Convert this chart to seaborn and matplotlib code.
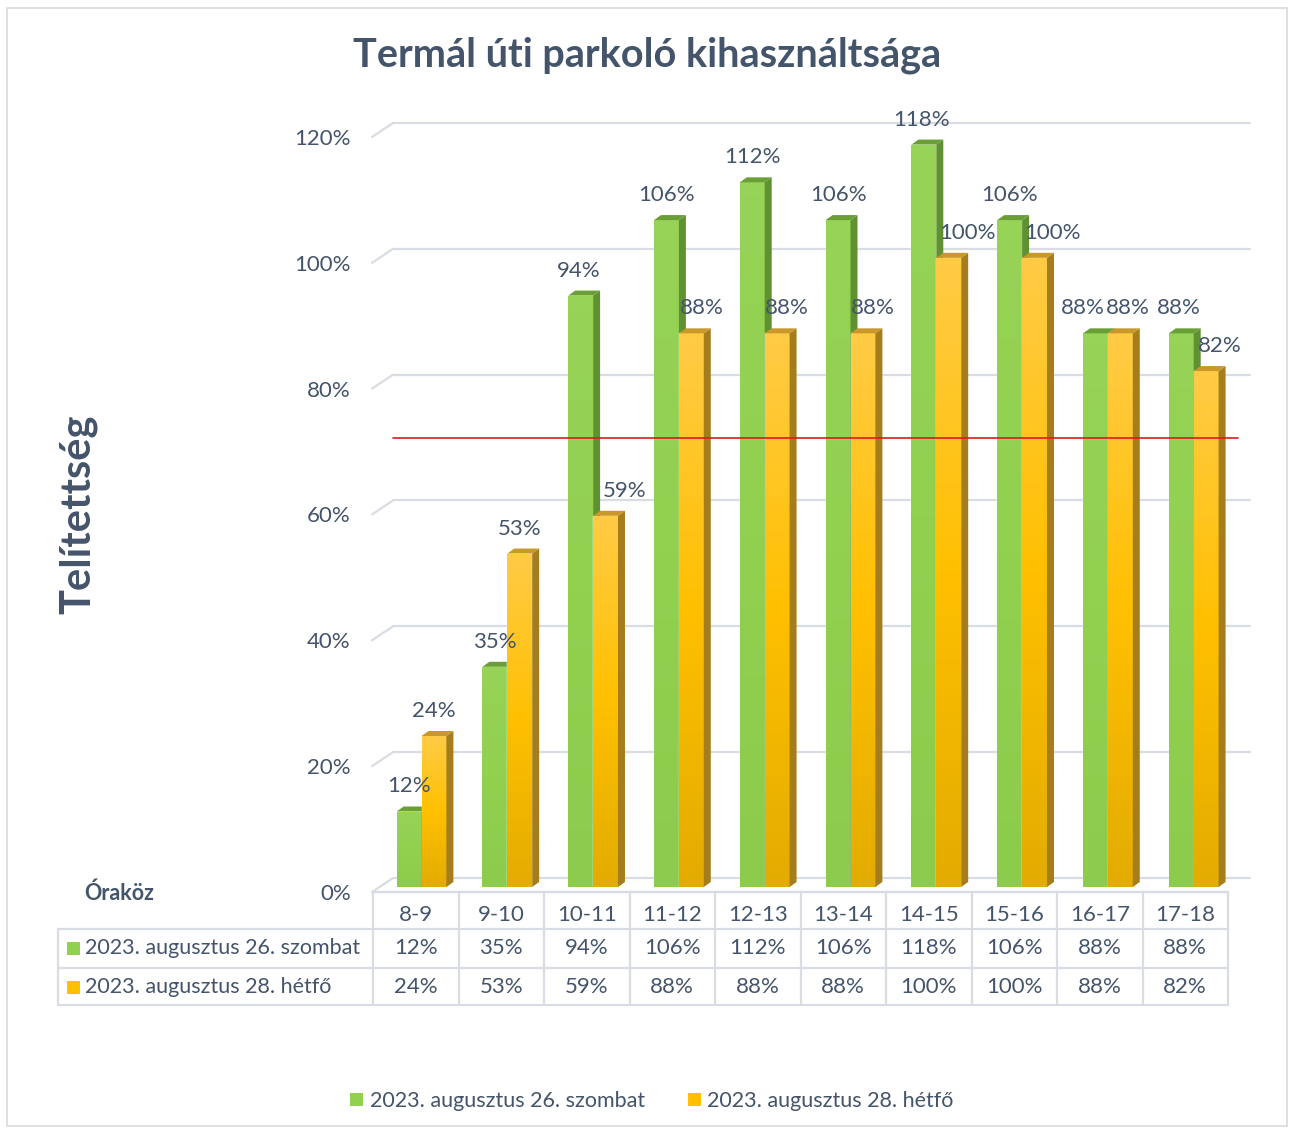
import numpy as np
import pandas as pd
import matplotlib
matplotlib.use("Agg")
import matplotlib.pyplot as plt
import seaborn as sns
from matplotlib.patches import Polygon, Rectangle, Patch
from matplotlib.lines import Line2D
from matplotlib.colors import LinearSegmentedColormap
from matplotlib.transforms import ScaledTranslation

# data
categories = ["8-9", "9-10", "10-11", "11-12", "12-13", "13-14", "14-15", "15-16", "16-17", "17-18"]
series_names = ["2023. augusztus 26. szombat", "2023. augusztus 28. hétfő"]
saturday = [12, 35, 94, 106, 112, 106, 118, 106, 88, 88]
monday = [24, 53, 59, 88, 88, 88, 100, 100, 88, 82]
threshold = 70
yticks = [0, 20, 40, 60, 80, 100, 120]

# label nudges (px) so neighbouring data labels don't collide
label_dx = [0, 0, -2, 0, 0, 0, -2, 0, -13, -2] + [0, 0, 19, 10, 10, 10, 19, 18, 7, 14]

sns.set_theme(style="white")
plt.rcParams["font.family"] = ["Lato", "DejaVu Sans"]

TXT = "#44546A"
GRID = "#D9DCE3"
GREEN = "#92D050"
ORANGE = "#FFC000"
FS = 16

W, H = 1293, 1131
fig = plt.figure(figsize=(W / 100, H / 100), dpi=100)

# bar plane: 0% at y=887 px, 120% at y=132 px
ax_left, ax_right = 378.6, 1236.6
ax = fig.add_axes([ax_left / W, (H - 887) / H, (ax_right - ax_left) / W, 755 / H])

df = pd.DataFrame({
    "Óraköz": categories * 2,
    "Telítettség": saturday + monday,
    "Nap": [series_names[0]] * len(categories) + [series_names[1]] * len(categories),
})
sns.barplot(data=df, x="Óraköz", y="Telítettség", hue="Nap", palette=[GREEN, ORANGE],
            width=0.58, saturation=1, legend=False, ax=ax, zorder=3)

ax.set_xlim(-0.5, 9.5)
ax.set_ylim(0, 120)
for s in ax.spines.values():
    s.set_visible(False)
ax.set_xticks([])
ax.set_xlabel("")
ax.set_ylabel("")

py = 120 / 755                      # data units per pixel (y)
pxx = 1 / 85.8                      # data units per pixel (x)


def axx(p):
    return (p - ax_left) / (ax_right - ax_left)


ytr = ax.get_yaxis_transform()
# back-wall gridlines + left stubs
for v in yticks:
    ax.plot([axx(393), axx(1250)], [v + 9 * py] * 2, color=GRID, lw=1.6,
            transform=ytr, clip_on=False, zorder=0.5)
    ax.plot([axx(372), axx(393)], [v - 5 * py, v + 9 * py], color=GRID, lw=1.6,
            transform=ytr, clip_on=False, zorder=0.5)
ax.plot([axx(373), axx(1228)], [-5 * py] * 2, color=GRID, lw=1.6,
        transform=ytr, clip_on=False, zorder=0.5)
ax.plot([axx(393), axx(1238)], [threshold + 9 * py] * 2, color="#E0191B", lw=1.2,
        transform=ytr, clip_on=False, zorder=10)

ax.set_yticks(yticks)
ax.set_yticklabels([f"{v}%" for v in yticks], color=TXT, fontsize=FS)
ax.tick_params(axis="y", length=0, pad=20)
for lab in ax.get_yticklabels():
    lab.set_transform(lab.get_transform() + ScaledTranslation(0, -5 / 100, fig.dpi_scale_trans))

# 3D faces
ddx, ddy = 7 * pxx, 5 * py
faces = {
    0: ("#5F9130", "#6A9E37"),
    1: ("#A67D1C", "#C9972A"),
}
orange_cmap = LinearSegmentedColormap.from_list("o", ["#E3AC00", "#FFC000", "#FFCB45"])
green_cmap = LinearSegmentedColormap.from_list("g", ["#8CCB4B", "#92D050", "#96D356"])
n = len(categories)
bars = list(ax.patches)[:2 * n]
values = saturday + monday
for k, bar in enumerate(bars):
    grp = 0 if k < n else 1
    x0, w, h = bar.get_x(), bar.get_width(), bar.get_height()
    z = 3 + grp * 2
    bar.set_zorder(z)
    cmap = green_cmap if grp == 0 else orange_cmap
    img = ax.imshow(np.linspace(0, 1, 50).reshape(-1, 1), cmap=cmap, origin="lower",
                    extent=[x0, x0 + w, 0, h], aspect="auto", zorder=z + 0.1)
    img.set_clip_path(bar)
    side, top = faces[grp]
    ax.add_patch(Polygon([(x0 + w, 0), (x0 + w, h), (x0 + w + ddx, h + ddy), (x0 + w + ddx, ddy)],
                         closed=True, fc=side, ec="none", zorder=z + 0.2))
    ax.add_patch(Polygon([(x0, h), (x0 + w, h), (x0 + w + ddx, h + ddy), (x0 + ddx, h + ddy)],
                         closed=True, fc=top, ec="none", zorder=z + 0.2))
    ax.annotate(f"{values[k]}%", xy=(x0 + w / 2, h), xytext=(label_dx[k] * 0.72, 25 * 0.72),
                textcoords="offset points", ha="center", va="center",
                color=TXT, fontsize=FS, zorder=20, annotation_clip=False)
ax.set_xlim(-0.5, 9.5)
ax.set_ylim(0, 120)


# ---- figure-level text and data table (pixel coords) ----
def fx(p):
    return p / W


def fy(p):
    return 1 - p / H


def hline(x0, x1, y):
    fig.add_artist(Line2D([fx(x0), fx(x1)], [fy(y), fy(y)], color=GRID, lw=1.6))


def vline(x, y0, y1):
    fig.add_artist(Line2D([fx(x), fx(x)], [fy(y0), fy(y1)], color=GRID, lw=1.6))


fig.text(fx(647), fy(55), "Termál úti parkoló kihasználtsága", ha="center", va="center",
         fontsize=28.5, fontweight="bold", color=TXT)
fig.text(fx(78), fy(514), "Telítettség", ha="center", va="center", rotation=90,
         fontsize=30, fontweight="bold", color=TXT)
fig.text(fx(84), fy(893), "Óraköz", ha="left", va="center", fontsize=15.5,
         fontweight="bold", color=TXT)

col0, colw = 373, 85.5
rows = [892, 929, 968, 1005]
hline(col0, col0 + 10 * colw, rows[0])
for r in rows[1:]:
    hline(58, col0 + 10 * colw, r)
vline(58, rows[1], rows[3])
for i in range(11):
    vline(col0 + i * colw, rows[0], rows[3])

for i, c in enumerate(categories):
    cx = col0 + (i + 0.5) * colw
    fig.text(fx(cx), fy(915), c, ha="center", va="center", fontsize=FS, color=TXT)
    fig.text(fx(cx), fy(948), f"{saturday[i]}%", ha="center", va="center", fontsize=FS, color=TXT)
    fig.text(fx(cx), fy(987), f"{monday[i]}%", ha="center", va="center", fontsize=FS, color=TXT)

for yc, name, col in [(948, series_names[0], GREEN), (987, series_names[1], ORANGE)]:
    fig.add_artist(Rectangle((fx(67), fy(yc + 6.5)), 13 / W, 13 / H, fc=col, ec="none"))
    fig.text(fx(85), fy(yc), name, ha="left", va="center", fontsize=15.5, color=TXT)

# outer border
fig.add_artist(Rectangle((fx(7), fy(1126)), 1280 / W, 1118 / H, fill=False, ec="#D9D9D9", lw=1.2))

handles = [Patch(fc=GREEN, ec="none"), Patch(fc=ORANGE, ec="none")]
fig.legend(handles, series_names, loc="center", bbox_to_anchor=(fx(652), fy(1101)), ncol=2,
           frameon=False, fontsize=15.5, labelcolor=TXT, handlelength=0.6, handleheight=0.6,
           handletextpad=0.3, columnspacing=2.0)

fig.savefig("out.png", dpi=100)
